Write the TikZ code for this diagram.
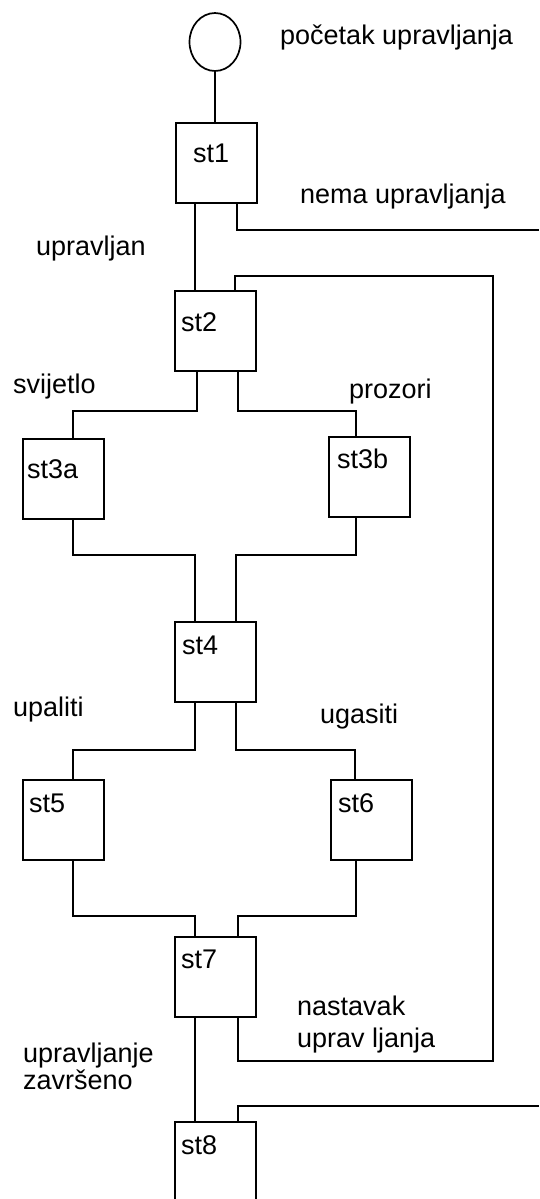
\documentclass[tikz,border=0pt]{standalone}
\usepackage{fontspec}
\setmainfont{Liberation Sans}
\usetikzlibrary{shapes.geometric}
\begin{document}
\begin{tikzpicture}[x=1pt,y=-1pt,
  box/.style={draw, line width=2pt, minimum width=81pt, minimum height=80pt, inner sep=0pt},
  wire/.style={line width=2pt},
  txt/.style={anchor=base west, inner sep=0pt, font=\fontsize{27}{31}\selectfont},
]
\clip (0,0) rectangle (539,1199);
% start circle
\node[ellipse, draw, line width=1.7pt, minimum width=51pt, minimum height=58pt, inner sep=0pt] (start) at (215,42) {};
% steps
\node[box] (st1) at (216,163) {};
\node[box] (st2) at (215.5,331) {};
\node[box] (st3a) at (63.5,479) {};
\node[box] (st3b) at (369.5,477) {};
\node[box] (st4) at (215.5,661.5) {};
\node[box] (st5) at (63.5,819.5) {};
\node[box] (st6) at (371.5,819.5) {};
\node[box] (st7) at (215.5,977) {};
\node[box] (st8) at (215.5,1162) {};
% step labels
\node[txt] (t1) at (193,162) {st1};
\node[txt] (t2) at (181,331) {st2};
\node[txt] (t3a) at (27,478) {st3a};
\node[txt] (t3b) at (337,468) {st3b};
\node[txt] (t4) at (182,654) {st4};
\node[txt] (t5) at (29,812) {st5};
\node[txt] (t6) at (338,812) {st6};
\node[txt] (t7) at (181,968) {st7};
\node[txt] (t8) at (181,1154) {st8};
% transition texts
\node[txt] (pocetak) at (280,45) {početak upravljanja};
\node[txt] (nema) at (300,203) {nema upravljanja};
\node[txt] (upravljan) at (36,255) {upravljan};
\node[txt] (svijetlo) at (13,393) {svijetlo};
\node[txt] (prozori) at (349,398) {prozori};
\node[txt] (upaliti) at (13,716) {upaliti};
\node[txt] (ugasiti) at (320,723) {ugasiti};
\node[txt] (nast1) at (297,1015) {nastavak};
\node[txt] (nast2) at (297,1047) {uprav ljanja};
\node[txt] (zav1) at (23,1062) {upravljanje};
\node[txt] (zav2) at (23,1089) {završeno};
% free ends / loop corners
\coordinate (out1) at (539,230);
\coordinate (out2) at (539,1106);
\coordinate (loopR) at (493,276);
\coordinate (loopB) at (493,1061);
% connectors
\draw[wire] (start.south) -- (start.south |- st1.north);
\draw[wire] ([xshift=-21pt]st1.south) -- ([xshift=-20.5pt]st2.north);
\draw[wire] ([xshift=21pt]st1.south) |- (out1);
\draw[wire] ([xshift=19.5pt]st2.north) |- (loopR) -- (loopB) -| ([xshift=22.5pt]st7.south);
\draw[wire] ([xshift=-18.5pt]st2.south) -- ++(0,39) -| ([xshift=9.5pt]st3a.north);
\draw[wire] ([xshift=22.5pt]st2.south) -- ++(0,39) -| ([xshift=-13.5pt]st3b.north);
\draw[wire] ([xshift=9.5pt]st3a.south) -- ++(0,35) -| ([xshift=-20.5pt]st4.north);
\draw[wire] ([xshift=-13.5pt]st3b.south) -- ++(0,37) -| ([xshift=20.5pt]st4.north);
\draw[wire] ([xshift=-20.5pt]st4.south) -- ++(0,47.5) -| ([xshift=9.5pt]st5.north);
\draw[wire] ([xshift=20.5pt]st4.south) -- ++(0,47.5) -| ([xshift=-16.5pt]st6.north);
\draw[wire] ([xshift=9.5pt]st5.south) -- ++(0,55) -| ([xshift=-20.5pt]st7.north);
\draw[wire] ([xshift=-15.5pt]st6.south) -- ++(0,55) -| ([xshift=22.5pt]st7.north);
\draw[wire] ([xshift=-20.5pt]st7.south) -- ([xshift=-20.5pt]st8.north);
\draw[wire] ([xshift=22.5pt]st8.north) |- (out2);
\end{tikzpicture}
\end{document}
